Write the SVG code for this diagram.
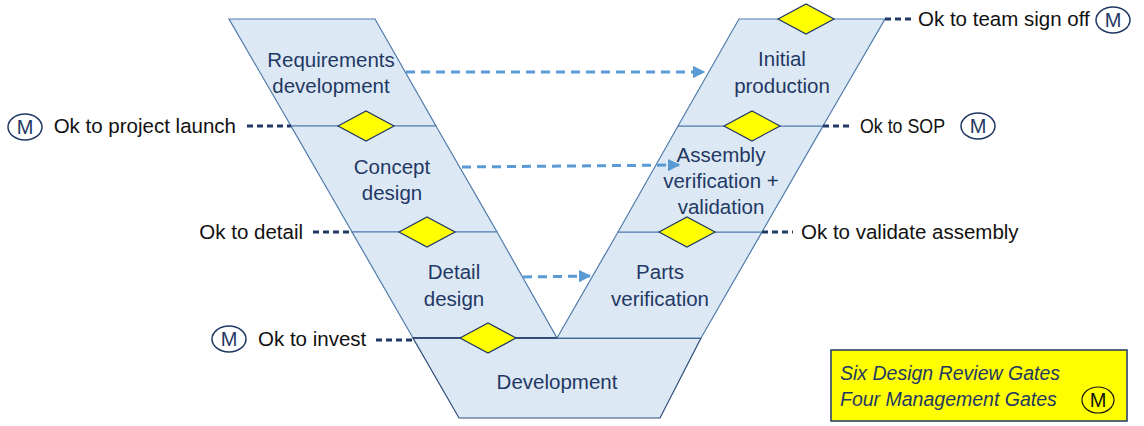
<svg xmlns="http://www.w3.org/2000/svg" width="1144" height="426" viewBox="0 0 1144 426">
<style>
.stage{fill:#dde8f5;stroke:#4f7bab;stroke-width:1.2}
.dia{fill:#ffff00;stroke:#1f3864;stroke-width:1.2}
.lbl{font-family:"Liberation Sans",Arial,sans-serif;font-size:20.5px;fill:#1f3864;text-anchor:middle}
.ok{font-family:"Liberation Sans",Arial,sans-serif;font-size:20.5px;fill:#111}
.lead{stroke:#1f3864;stroke-width:2.8;stroke-dasharray:6 4;fill:none}
.flow{stroke:#5b9bd5;stroke-width:3;stroke-dasharray:9 6;fill:none}
.mc{fill:#fff;stroke:#1f3864;stroke-width:1.5}
.mt{font-family:"Liberation Sans",Arial,sans-serif;font-size:20px;fill:#1f3864;text-anchor:middle}
.leg{font-family:"Liberation Sans",Arial,sans-serif;font-size:19.5px;font-style:italic;fill:#1f3864}
</style>
<defs>
<marker id="ah" viewBox="0 0 10 10" refX="9" refY="5" markerWidth="4.2" markerHeight="4.2" orient="auto" markerUnits="strokeWidth">
<path d="M0,0 L10,5 L0,10 z" fill="#5b9bd5"/>
</marker>
</defs>

<g id="requirements">
<polygon class="stage" points="229,19 375,19 436,126 291,126"/>
<text class="lbl" x="331" y="67">Requirements</text>
<text class="lbl" x="331" y="93">development</text>
</g>
<g id="concept">
<polygon class="stage" points="291,126 436,126 497,232 352,232"/>
<text class="lbl" x="392" y="174">Concept</text>
<text class="lbl" x="392" y="200">design</text>
</g>
<g id="detail">
<polygon class="stage" points="352,232 497,232 557,338 413,338"/>
<text class="lbl" x="454" y="279">Detail</text>
<text class="lbl" x="454" y="306">design</text>
</g>
<g id="development">
<polygon class="stage" points="413,338 701,338 660,418 459,418" style="stroke:#2f4d7a"/>
<line x1="413" y1="338" x2="701" y2="338" stroke="#1f3864" stroke-width="1.5"/>
<text class="lbl" x="557" y="389">Development</text>
</g>
<g id="parts">
<polygon class="stage" points="557,338 618,232 762,232 701,338"/>
<text class="lbl" x="660" y="279">Parts</text>
<text class="lbl" x="660" y="306">verification</text>
</g>
<g id="assembly">
<polygon class="stage" points="618,232 678,126 823,126 762,232"/>
<text class="lbl" x="721" y="162">Assembly</text>
<text class="lbl" x="721" y="188">verification +</text>
<text class="lbl" x="721" y="214">validation</text>
</g>
<g id="production">
<polygon class="stage" points="678,126 739,19 885,19 823,126"/>
<text class="lbl" x="782" y="66">Initial</text>
<text class="lbl" x="782" y="93">production</text>
</g>

<g id="gates">
<polygon class="dia" points="338,126 366,111 394,126 366,141"/>
<polygon class="dia" points="399,232 427,217 455,232 427,247"/>
<polygon class="dia" points="460,338 488,323 516,338 488,353"/>
<polygon class="dia" points="778,19 806,4 834,19 806,34"/>
<polygon class="dia" points="724,126 752,111 780,126 752,141"/>
<polygon class="dia" points="659,232 687,217 715,232 687,247"/>
</g>

<g id="connectors">
<line class="flow" x1="406" y1="72" x2="704" y2="72" marker-end="url(#ah)"/>
<line class="flow" x1="462" y1="167" x2="679" y2="165" marker-end="url(#ah)"/>
<line class="flow" x1="523" y1="277" x2="590" y2="276" marker-end="url(#ah)"/>
<line class="lead" x1="885" y1="19" x2="911" y2="19"/>
<line class="lead" x1="247" y1="126" x2="291" y2="126"/>
<line class="lead" x1="823" y1="126" x2="851" y2="126"/>
<line class="lead" x1="313" y1="232" x2="352" y2="232"/>
<line class="lead" x1="762" y1="232" x2="793" y2="232"/>
<line class="lead" x1="376" y1="340" x2="413" y2="340"/>
</g>

<g id="gate-team-signoff">
<text class="ok" x="918" y="26">Ok to team sign off</text>
<ellipse class="mc" cx="1113" cy="20" rx="17" ry="13"/>
<text class="mt" x="1113" y="27">M</text>
</g>
<g id="gate-project-launch">
<ellipse class="mc" cx="25" cy="127" rx="17" ry="13"/>
<text class="mt" x="25" y="134">M</text>
<text class="ok" x="236" y="133" text-anchor="end">Ok to project launch</text>
</g>
<g id="gate-sop">
<text class="ok" x="860" y="133" textLength="85" lengthAdjust="spacingAndGlyphs">Ok to SOP</text>
<ellipse class="mc" cx="978" cy="126" rx="17" ry="13"/>
<text class="mt" x="978" y="133">M</text>
</g>
<g id="gate-detail">
<text class="ok" x="303" y="239" text-anchor="end">Ok to detail</text>
</g>
<g id="gate-validate">
<text class="ok" x="801" y="239">Ok to validate assembly</text>
</g>
<g id="gate-invest">
<ellipse class="mc" cx="229" cy="339" rx="17" ry="13"/>
<text class="mt" x="229" y="346">M</text>
<text class="ok" x="258" y="346">Ok to invest</text>
</g>

<g id="legend">
<rect x="831" y="350" width="296" height="71" fill="#ffff00" stroke="#1f3864" stroke-width="1.5"/>
<text class="leg" x="840" y="380">Six Design Review Gates</text>
<text class="leg" x="840" y="406">Four Management Gates</text>
<ellipse cx="1098" cy="400" rx="16" ry="13" fill="none" stroke="#111" stroke-width="1.2"/>
<text class="mt" x="1098" y="407" style="fill:#111">M</text>
</g>
</svg>
